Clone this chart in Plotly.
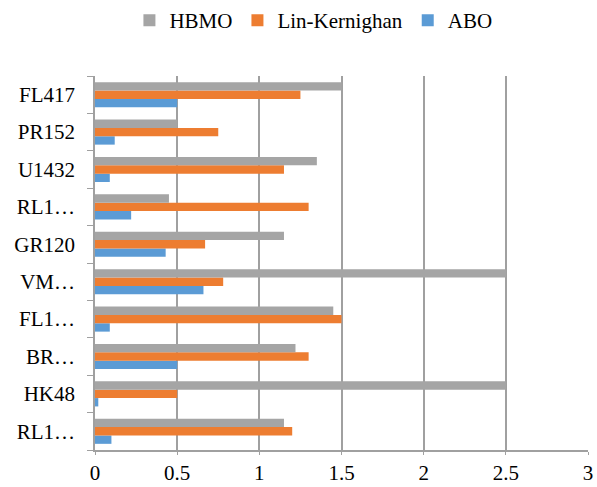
import plotly.graph_objects as go

# categories, bottom to top
labels = ["RL1…", "HK48", "BR…", "FL1…", "VM…", "GR120", "RL1…", "U1432", "PR152", "FL417"]
hbmo = [1.15, 2.5, 1.22, 1.45, 2.5, 1.15, 0.45, 1.35, 0.5, 1.5]
lin_kernighan = [1.20, 0.5, 1.30, 1.50, 0.78, 0.67, 1.30, 1.15, 0.75, 1.25]
abo = [0.10, 0.02, 0.50, 0.09, 0.66, 0.43, 0.22, 0.09, 0.12, 0.50]
x_ticks = [0, 0.5, 1, 1.5, 2, 2.5, 3]
x_ticktext = ["0", "0.5", "1", "1.5", "2", "2.5", "3"]

pos = list(range(len(labels)))

fig = go.Figure()
fig.add_trace(go.Bar(name="ABO", y=pos, x=abo, orientation="h",
                     marker=dict(color="#5b9bd5", line=dict(width=0))))
fig.add_trace(go.Bar(name="Lin-Kernighan", y=pos, x=lin_kernighan, orientation="h",
                     marker=dict(color="#ed7d31", line=dict(width=0))))
fig.add_trace(go.Bar(name="HBMO", y=pos, x=hbmo, orientation="h",
                     marker=dict(color="#a5a5a5", line=dict(width=0))))

font = "Liberation Serif"
fig.update_layout(
    width=597, height=487,
    margin=dict(l=95, r=9, t=76, b=37, autoexpand=False),
    paper_bgcolor="white", plot_bgcolor="white",
    barmode="group", bargap=0.33, bargroupgap=0,
    font=dict(family=font, size=21, color="black"),
    showlegend=True,
    legend=dict(orientation="h", traceorder="reversed",
                x=0.525, xref="container", xanchor="center",
                y=1.0, yref="container", yanchor="top",
                font=dict(family=font, size=21, color="black"), itemwidth=30),
    xaxis=dict(range=[0, 3], tickvals=x_ticks, ticktext=x_ticktext,
               showgrid=True, gridcolor="#a0a0a0", gridwidth=1.5,
               showline=True, linecolor="#a0a0a0", linewidth=1.5,
               ticks="outside", ticklen=3, tickcolor="#a0a0a0",
               zeroline=False, fixedrange=True, automargin=False,
               tickfont=dict(family=font, size=21, color="black")),
    yaxis=dict(range=[-0.5, len(labels) - 0.5], tickvals=pos, ticktext=labels,
               ticks="", showgrid=False, zeroline=False, automargin=False,
               showline=True, linecolor="#a0a0a0", linewidth=1.5,
               ticklabelstandoff=14,
               tickfont=dict(family=font, size=21, color="black"),
               minor=dict(tickmode="linear", tick0=-0.5, dtick=1, ticks="outside",
                          ticklen=6, tickcolor="#a0a0a0", showgrid=False)),
)

fig.write_html("out.html")
